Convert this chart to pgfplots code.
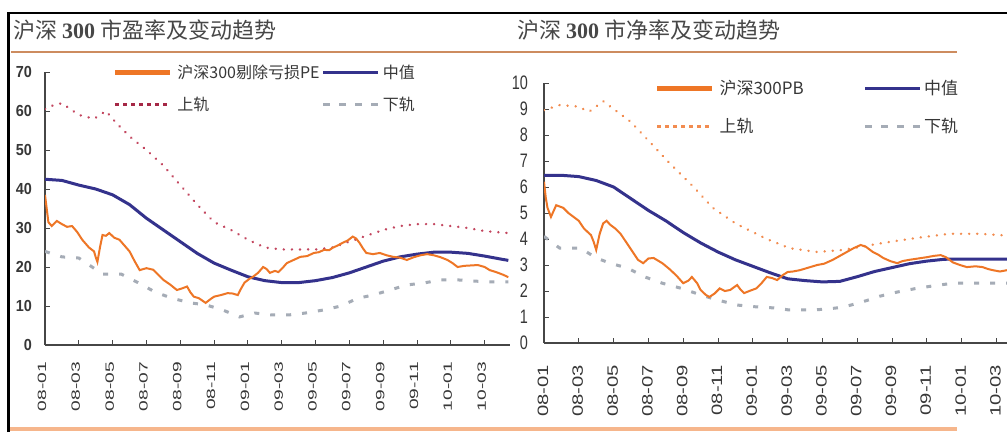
\documentclass[border=0pt]{standalone}
\usepackage{fontspec}
\usepackage{pgfplots}
\usepackage{pgfplotstable}
\pgfplotsset{compat=1.18}
\setmainfont{Liberation Sans}
\newfontfamily\cjk{Noto Sans CJK SC}
\newfontfamily\serifb{Liberation Serif}
\newfontfamily\xfontL[FakeStretch=1.6]{Liberation Sans}
\newfontfamily\xfontR[FakeStretch=1.35]{Liberation Sans}
\newfontfamily\yfontL[FakeStretch=0.9]{Liberation Sans}
\newfontfamily\yfontR[FakeStretch=0.74]{Liberation Sans}

\definecolor{peorange}{RGB}{238,118,38}
\definecolor{midnavy}{RGB}{52,50,140}
\definecolor{redrail}{RGB}{165,40,70}
\definecolor{redraildot}{RGB}{195,70,95}
\definecolor{orangerail}{RGB}{242,140,80}
\definecolor{grayrail}{RGB}{165,172,182}
\definecolor{axisgray}{RGB}{70,70,70}
\definecolor{txtgray}{RGB}{55,55,55}
\definecolor{rulecol}{RGB}{205,140,95}
\definecolor{bottomcol}{RGB}{246,182,140}

% left panel: PE
\pgfplotstableread{
x y
0 38.5
0.1 35
0.2 31.5
0.4 30.5
0.7 31.8
1.0 31
1.3 30.3
1.6 30.5
1.9 29
2.2 27
2.6 25
2.9 24
3.0 22.5
3.1 21.3
3.25 25
3.4 28.2
3.6 28
3.8 28.7
4.1 27.5
4.4 27
4.7 25.5
5.0 24
5.3 21.5
5.6 19.2
6.0 19.7
6.4 19.3
6.7 18
7.0 16.7
7.4 15.5
7.8 14.1
8.1 14.5
8.4 15
8.6 13.5
8.8 12.4
9.1 12
9.5 10.8
9.8 11.8
10.0 12.4
10.4 12.8
10.8 13.3
11.1 13.2
11.4 12.8
11.6 14.5
11.8 16
12.1 17
12.3 17.5
12.6 18.5
12.9 20
13.1 19.5
13.3 18.5
13.6 19
13.8 18.7
14.1 20
14.3 21
14.7 21.8
15.1 22.6
15.5 22.8
15.9 23.6
16.2 23.8
16.5 24.4
16.8 24.3
17.0 24.9
17.3 25.5
17.6 26.2
17.9 26.8
18.2 27.8
18.4 27.3
18.6 26.2
18.8 24.8
19.0 23.6
19.4 23.3
19.8 23.6
20.2 23
20.6 22.6
21.0 22.4
21.4 21.8
21.8 22.5
22.2 23
22.6 23.3
23.0 23
23.4 22.5
23.8 21.8
24.1 21
24.4 20
24.8 20.3
25.2 20.4
25.6 20.5
26.0 20
26.3 19.2
26.6 18.8
26.8 18.5
27.1 18
27.4 17.4
}\pedata

\pgfplotstableread{
x y
0 42.5
1 42.2
2 41
3 40
4 38.5
5 36
6 32.5
7 29.5
8 26.5
9 23.5
10 21
11 19.2
12 17.5
13 16.5
14 16
15 16
16 16.5
17 17.3
18 18.5
19 20
20 21.5
21 22.6
22 23.3
23 23.8
24 23.8
25 23.5
26 22.8
27 22
27.4 21.7
}\pemid

\pgfplotstableread{
x y
0 60.5
0.5 61.5
1 62
2 59
2.9 58
3.6 60
4.2 57
5 53.5
6 50
7 46
8 41
9 36
10 31.5
11 29.5
12 27
13 25
14 24.5
15 24.5
16 24.5
17 25
18 26.5
19 28
20 29.5
21 30.5
22 31
23 31
24 30.5
25 30
26 29.2
27.4 28.7
}\peup

\pgfplotstableread{
x y
0 24
1 22.6
2 22.3
3.4 18.2
4.5 18.2
5.5 16
6.5 13.6
7.5 12
8.6 10.8
9.5 10.3
10.5 9
11.5 7.2
12.4 8.2
13.4 7.7
14.4 7.7
15.4 8.2
16.5 9
17.5 10
18.5 12
19.4 12.8
20.4 14.1
21.4 15.4
22.4 15.9
23.4 16.7
24.4 16.7
25.3 16.4
26.3 16.2
27.4 16.2
}\pelow

% right panel: PB
\pgfplotstableread{
x y
0 6.2
0.1 5.6
0.2 5.2
0.4 4.85
0.7 5.3
1.1 5.2
1.4 5.0
1.7 4.85
2.0 4.7
2.3 4.4
2.7 4.15
2.85 3.9
3.0 3.58
3.2 4.2
3.4 4.6
3.6 4.7
3.8 4.55
4.1 4.4
4.4 4.2
4.7 3.9
5.1 3.5
5.4 3.2
5.7 3.07
6.0 3.25
6.3 3.27
6.6 3.15
6.8 3.07
7.2 2.85
7.6 2.6
8.0 2.3
8.3 2.4
8.5 2.54
8.8 2.3
9.0 2.04
9.3 1.85
9.5 1.77
9.8 1.9
10.1 2.1
10.4 2.0
10.7 2.04
11.1 2.23
11.3 2.05
11.5 1.92
11.8 2.0
12.2 2.1
12.5 2.3
12.8 2.54
13.1 2.5
13.4 2.42
13.7 2.6
14.0 2.73
14.3 2.75
14.7 2.8
15.2 2.9
15.7 3.0
16.1 3.05
16.6 3.2
17.0 3.35
17.4 3.5
17.8 3.65
18.2 3.77
18.5 3.7
18.9 3.5
19.2 3.4
19.5 3.27
19.9 3.15
20.3 3.07
20.6 3.15
21.0 3.2
21.5 3.25
22.0 3.3
22.4 3.35
22.8 3.38
23.1 3.3
23.5 3.1
23.9 3.0
24.3 2.92
24.8 2.95
25.2 2.92
25.5 2.85
25.8 2.8
26.2 2.75
26.6 2.8
27.4 2.78
}\pbdata

\pgfplotstableread{
x y
0 6.45
1 6.45
2 6.4
3 6.25
4 6.0
5 5.55
6 5.1
7 4.7
8 4.25
9 3.85
10 3.5
11 3.2
12 2.95
13 2.7
14 2.47
15 2.4
16 2.35
17 2.37
18 2.55
19 2.75
20 2.9
21 3.05
22 3.15
23 3.22
24 3.23
25 3.23
26 3.23
27.5 3.22
}\pbmid

\pgfplotstableread{
x y
0 8.96
0.9 9.15
1.9 9.1
2.6 8.9
3.4 9.3
4 9.0
5 8.5
5.7 8.0
7.1 7.0
8.6 6.0
9.7 5.2
11 4.6
12.8 4.0
14.1 3.65
15.7 3.5
17.2 3.58
18.2 3.7
19.5 3.85
21.4 4.04
23.3 4.2
25 4.2
26.2 4.15
27.5 4.1
}\pbup

\pgfplotstableread{
x y
0 4.1
0.9 3.65
2.1 3.65
3.0 3.27
3.8 3.07
4.8 2.88
5.8 2.54
6.8 2.3
7.9 2.1
9 1.85
10 1.65
11.1 1.46
12 1.4
13.2 1.35
14.1 1.27
15.3 1.27
16.2 1.3
17.2 1.38
18.3 1.58
19.3 1.8
20.3 1.96
21.4 2.1
22.4 2.2
23.5 2.3
24.5 2.3
26.4 2.3
27.5 2.3
}\pblow

\pgfplotsset{
  panel/.style={
    scale only axis,
    axis lines*=left,
    tick align=inside,
    axis line style={draw=axisgray, line width=1.2pt},
    major tick style={draw=axisgray, line width=1pt},
    major tick length=5pt,
    xmin=0, xmax=27.5,
    xtick={0,2,...,26},
    xticklabels={08-01,08-03,08-05,08-07,08-09,08-11,09-01,09-03,09-05,09-07,09-09,09-11,10-01,10-03},
    /pgf/number format/assume math mode=true,
    ticklabel style={text=txtgray},
    legend cell align=left,
    legend image code/.code={\draw[##1] (0pt,0pt) -- (55pt,0pt);},
    legend style={draw=none, fill=none, inner sep=0pt, outer sep=0pt,
      column sep=0pt, nodes={inner sep=0pt}, text=txtgray},
  },
}

\begin{document}
\begin{tikzpicture}
\useasboundingbox (0,0) rectangle (1007pt,432pt);
\fill[white] (0,0) rectangle (1007pt,432pt);
\clip (0,0) rectangle (1007pt,432pt);

% frame and rules
\draw[black, line width=2.4pt] (8.5pt,0pt) -- (8.5pt,419pt) -- (1010pt,419pt);
\draw[rulecol, line width=2pt] (11pt,380pt) -- (957pt,380pt);
\draw[bottomcol, line width=4pt] (10pt,3pt) -- (957pt,3pt);

% titles
\node[anchor=west, inner sep=0pt, text=black!72, font=\fontsize{22}{22}\selectfont]
  at (13pt,402pt) {\cjk 沪深 {\serifb\bfseries 300} 市盈率及变动趋势};
\node[anchor=west, inner sep=0pt, text=black!72, font=\fontsize{22}{22}\selectfont]
  at (517pt,402pt) {\cjk 沪深 {\serifb\bfseries 300} 市净率及变动趋势};

\begin{axis}[panel,
  at={(45pt,87pt)}, anchor=south west,
  width=465pt, height=273pt,
  ymin=0, ymax=70, ytick={0,10,...,70},
  xticklabel style={yshift=-17pt, xshift=-3pt, rotate=90, anchor=east, inner sep=0pt,
    font=\fontsize{12}{12}\selectfont\xfontL},
  yticklabel style={anchor=east, inner sep=0pt, xshift=-13pt,
    font=\fontsize{16}{16}\selectfont\yfontL\bfseries},
  legend columns=2,
  legend style={at={(0.1462,0.9396)}, anchor=west, row sep=17pt,
    font=\fontsize{16}{16}\selectfont\cjk},
]
\addplot[grayrail, line width=3pt, dash pattern=on 5pt off 11pt, forget plot] table {\pelow};
\addplot[redraildot, line width=2.6pt, line cap=round, dash pattern=on 0.1pt off 8pt, forget plot] table {\peup};
\addplot[midnavy, line width=3pt, forget plot] table {\pemid};
\addplot[peorange, line width=2pt, forget plot] table {\pedata};
\addlegendimage{peorange, line width=4.5pt}
\addlegendentry{\makebox[149pt][l]{\hspace{5pt}沪深300剔除亏损PE}}
\addlegendimage{midnavy, line width=3.5pt}
\addlegendentry{\hspace{3pt}中值}
\addlegendimage{redrail, line width=2.6pt, dash pattern=on 4pt off 4pt}
\addlegendentry{\makebox[149pt][l]{\hspace{5pt}上轨}}
\addlegendimage{grayrail, line width=2.6pt, dash pattern=on 7pt off 9pt}
\addlegendentry{\hspace{3pt}下轨}
\end{axis}

\begin{axis}[panel,
  at={(544pt,89pt)}, anchor=south west,
  width=478.5pt, height=260pt,
  ymin=0, ymax=10, ytick={0,1,...,10},
  xticklabel style={yshift=-22pt, xshift=-1pt, rotate=90, anchor=east, inner sep=0pt,
    font=\fontsize{15}{15}\selectfont\xfontR},
  yticklabel style={anchor=east, inner sep=0pt, xshift=-16pt,
    font=\fontsize{19.5}{19.5}\selectfont\yfontR},
  legend columns=2,
  legend style={at={(0.232,0.9058)}, anchor=west, row sep=22pt,
    font=\fontsize{17}{17}\selectfont\cjk},
]
\addplot[grayrail, line width=3pt, dash pattern=on 5pt off 11pt, forget plot] table {\pblow};
\addplot[orangerail, line width=2.6pt, line cap=round, dash pattern=on 0.1pt off 8pt, forget plot] table {\pbup};
\addplot[midnavy, line width=3pt, forget plot] table {\pbmid};
\addplot[peorange, line width=2pt, forget plot] table {\pbdata};
\addlegendimage{peorange, line width=4.5pt}
\addlegendentry{\makebox[149pt][l]{\hspace{5pt}沪深300PB}}
\addlegendimage{midnavy, line width=3.5pt}
\addlegendentry{\hspace{2pt}中值}
\addlegendimage{orangerail, line width=2.4pt, dash pattern=on 4pt off 4pt}
\addlegendentry{\makebox[149pt][l]{\hspace{5pt}上轨}}
\addlegendimage{grayrail, line width=2.6pt, dash pattern=on 7pt off 9pt}
\addlegendentry{\hspace{2pt}下轨}
\end{axis}
\end{tikzpicture}
\end{document}
